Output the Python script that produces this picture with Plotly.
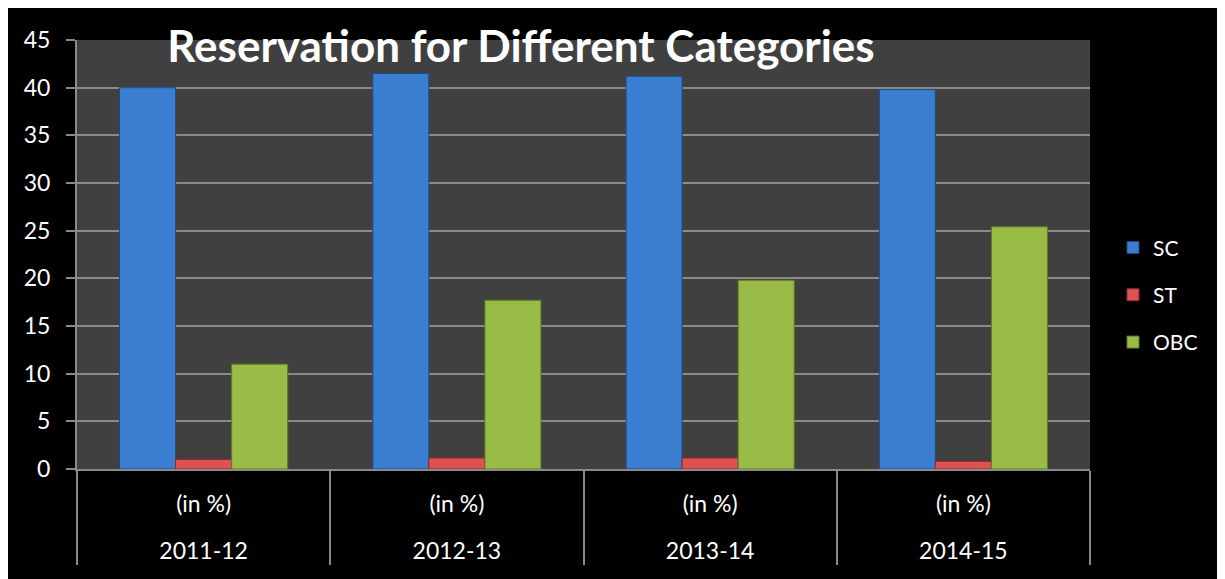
import plotly.graph_objects as go

years = ["2011-12", "2012-13", "2013-14", "2014-15"]
unit_label = ["(in %)", "(in %)", "(in %)", "(in %)"]
sc = [40.0, 41.5, 41.2, 39.8]
st = [1.0, 1.15, 1.15, 0.8]
obc = [11.0, 17.7, 19.8, 25.4]

series = [
    ("SC", sc, "#3b7dd0", "#1f4a80"),
    ("ST", st, "#e05252", "#8c2a2a"),
    ("OBC", obc, "#98bc45", "#5f7a25"),
]

FONT = "Lato"
W, H = 1225, 579
L, R, T, B = 69, 143, 32, 118

# inner label padded with an empty line so the outer level sits lower
inner = [u + "<br> " for u in unit_label]

fig = go.Figure()
for name, vals, col, edge in series:
    fig.add_trace(go.Bar(
        x=[years, inner], y=vals, name=name,
        marker=dict(color=col, line=dict(color=edge, width=1)),
        legendgroup=name,
    ))

fig.update_layout(
    width=W, height=H,
    margin=dict(l=L, r=R, t=T, b=B),
    paper_bgcolor="black",
    plot_bgcolor="#404040",
    barmode="group",
    bargap=0.336,
    bargroupgap=0,
    font=dict(family=FONT, color="white", size=18),
    title=dict(text="<b>Reservation for Different Categories</b>",
               x=513 / W, xanchor="center", y=1 - 39 / H, yanchor="middle",
               font=dict(family=FONT, size=44, color="white")),
    legend=dict(x=1.0227, xanchor="left", y=0.406, yanchor="middle",
                font=dict(size=21, color="white"),
                tracegroupgap=17, traceorder="grouped",
                bgcolor="rgba(0,0,0,0)"),
    yaxis=dict(range=[0, 45], dtick=5, showgrid=True,
               gridcolor="#8a8a8a", gridwidth=2,
               showline=True, linecolor="#8a8a8a", linewidth=2,
               ticks="outside", ticklen=9, tickcolor="#8a8a8a", tickwidth=2,
               ticklabelstandoff=11,
               tickfont=dict(size=23, color="white"), zeroline=False),
    xaxis=dict(type="multicategory", showline=True, linecolor="#8a8a8a",
               linewidth=2, showdividers=True, dividercolor="#8a8a8a",
               dividerwidth=2, tickfont=dict(size=23, color="white"),
               ticklabelstandoff=13,
               showgrid=False),
)

fig.write_html("out.html")
